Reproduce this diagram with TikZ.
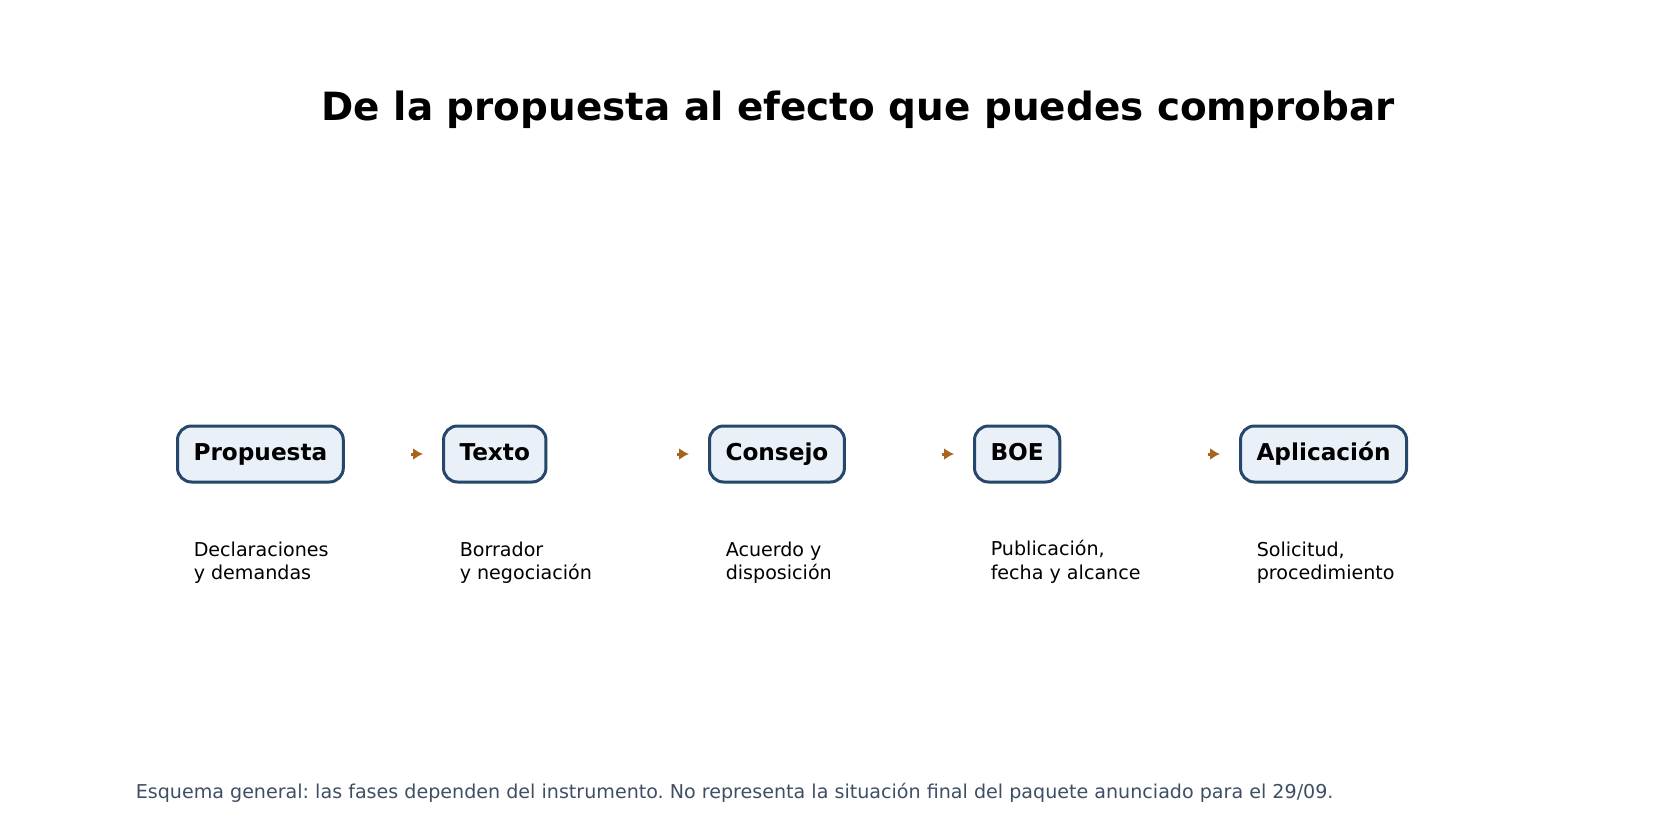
\documentclass[tikz,border=0pt]{standalone}
\usepackage{fontspec}
\setmainfont{DejaVu Sans}
\usetikzlibrary{arrows.meta}
\definecolor{boxline}{HTML}{24476B}
\definecolor{boxfill}{HTML}{EAF0F8}
\definecolor{flowcol}{HTML}{A6641F}
\definecolor{notecol}{HTML}{3F4F63}
\frenchspacing
\tikzset{every picture/.style={line width=0.75pt}}
\tikzset{
  phase/.style={draw=boxline,fill=boxfill,line width=1.5pt,rounded corners=7pt,
    minimum height=28pt,inner xsep=8pt,text height=8.8pt,text depth=2.8pt,anchor=west,
    font=\fontsize{11.6}{14}\selectfont\bfseries},
  phasenote/.style={anchor=north west,inner sep=0pt,align=left,font=\fontsize{9.55}{11.8}\selectfont},
  flow/.style={draw=flowcol,line width=1.5pt,-{Latex[length=5pt,width=6pt]},shorten >=9.5pt}
}

\begin{document}
\begin{tikzpicture}[x=0.5pt,y=0.5pt,yscale=-1,xscale=1]
    \path[use as bounding box] (0,0) rectangle (1680,840);
    % Title
    \node [anchor=base] (title) at (858,120) {\fontsize{19.45}{23}\selectfont\bfseries De la propuesta al efecto que puedes comprobar};
    % Phase boxes
    \node [phase] (propuesta) at (176,454) {Propuesta};
    \node [phase] (texto) at (442,454) {Texto};
    \node [phase] (consejo) at (708,454) {Consejo};
    \node [phase] (boe) at (973,454) {BOE};
    \node [phase] (aplicacion) at (1239,454) {Aplicación};
    % Notes
    \node [phasenote] (nota1) at (193,541) {Declaraciones\\y demandas};
    \node [phasenote] (nota2) at (459,541) {Borrador\\y negociación};
    \node [phasenote] (nota3) at (725,541) {Acuerdo y\\disposición};
    \node [phasenote] (nota4) at (990,539.5) {Publicación,\\fecha y alcance};
    \node [phasenote] (nota5) at (1256,541) {Solicitud,\\procedimiento};
    % Connections
    \coordinate (f1) at ([xshift=-15.5pt]texto.west);
    \coordinate (f2) at ([xshift=-15.5pt]consejo.west);
    \coordinate (f3) at ([xshift=-15.5pt]boe.west);
    \coordinate (f4) at ([xshift=-15.5pt]aplicacion.west);
    \draw [flow] (f1) -- (texto);
    \draw [flow] (f2) -- (consejo);
    \draw [flow] (f3) -- (boe);
    \draw [flow] (f4) -- (aplicacion);
    % Footer
    \node [anchor=base west,inner sep=0pt,text=notecol,font=\fontsize{9.55}{11}\selectfont] (pie) at (135,798) {Esquema general: las fases dependen del instrumento. No representa la situación final del paquete anunciado para el 29/09.};
\end{tikzpicture}
\end{document}
